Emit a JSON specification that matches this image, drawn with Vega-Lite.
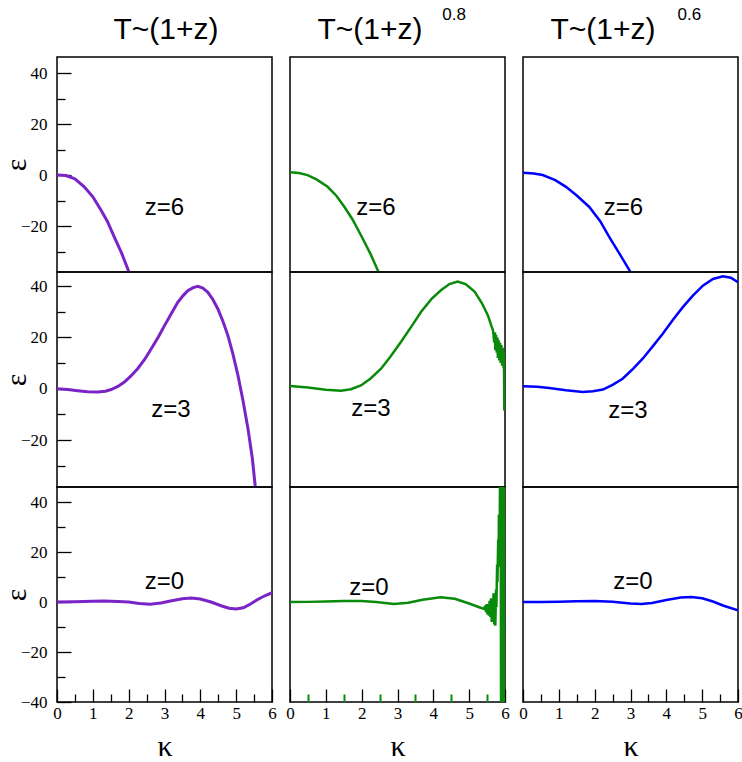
{
  "$schema": "https://vega.github.io/schema/vega-lite/v6.json",
  "padding": {"left": 0, "top": 4, "right": 4, "bottom": 4},
  "background": "white",
  "config": {
    "view": {"stroke": "black", "strokeWidth": 1.5},
    "axis": {"domain": false, "grid": false, "labelColor": "black", "tickColor": "black", "tickWidth": 1.3,
             "labelFont": "Liberation Serif", "labelFontSize": 17, "titleFont": "Liberation Serif", "titleFontSize": 30,
             "titleFontWeight": "normal", "titleColor": "black", "labelOverlap": false, "labelFlush": false, "labelBound": false},
    "text": {"font": "Liberation Sans", "fontSize": 24, "color": "black", "baseline": "middle", "align": "center"}
  },
  "datasets": {
    "p6": [{"k":0,"e":0},{"k":0.25,"e":-0.2},{"k":0.5,"e":-1.5},{"k":0.76,"e":-4.6},{"k":1.0,"e":-8.5},{"k":1.23,"e":-13.8},{"k":1.4,"e":-18},{"k":1.6,"e":-24.3},{"k":1.8,"e":-30.5},{"k":2.0,"e":-37.7},{"k":2.05,"e":-40}],
    "p3": [{"k":0,"e":0},{"k":0.3,"e":-0.3},{"k":0.58,"e":-0.8},{"k":0.85,"e":-1.2},{"k":1.14,"e":-1.3},{"k":1.35,"e":-1.0},{"k":1.51,"e":-0.3},{"k":1.7,"e":0.9},{"k":1.88,"e":2.6},{"k":2.05,"e":4.8},{"k":2.25,"e":7.8},{"k":2.45,"e":11.5},{"k":2.63,"e":15.6},{"k":2.82,"e":20},{"k":3.0,"e":24.6},{"k":3.2,"e":29.5},{"k":3.37,"e":33.7},{"k":3.52,"e":36.3},{"k":3.65,"e":38.2},{"k":3.8,"e":39.4},{"k":3.93,"e":39.9},{"k":4.07,"e":39.2},{"k":4.21,"e":37.6},{"k":4.35,"e":34.8},{"k":4.49,"e":31.1},{"k":4.63,"e":26.3},{"k":4.77,"e":20.7},{"k":4.91,"e":13.5},{"k":5.05,"e":5.2},{"k":5.19,"e":-4.6},{"k":5.33,"e":-15.6},{"k":5.45,"e":-27},{"k":5.53,"e":-37.7},{"k":5.56,"e":-41}],
    "p0": [{"k":0,"e":0},{"k":0.5,"e":0.1},{"k":1.0,"e":0.3},{"k":1.3,"e":0.35},{"k":1.7,"e":0.2},{"k":2.0,"e":0},{"k":2.3,"e":-0.6},{"k":2.6,"e":-0.9},{"k":2.9,"e":-0.4},{"k":3.2,"e":0.5},{"k":3.5,"e":1.3},{"k":3.75,"e":1.6},{"k":4.0,"e":1.2},{"k":4.3,"e":0},{"k":4.6,"e":-1.6},{"k":4.8,"e":-2.5},{"k":5.0,"e":-2.8},{"k":5.2,"e":-2.3},{"k":5.4,"e":-0.8},{"k":5.6,"e":1.0},{"k":5.8,"e":2.5},{"k":6.0,"e":3.7}],
    "g6": [{"k":0,"e":1.1},{"k":0.25,"e":0.8},{"k":0.49,"e":0},{"k":0.75,"e":-1.8},{"k":1.05,"e":-4.6},{"k":1.3,"e":-8.2},{"k":1.52,"e":-12.5},{"k":1.75,"e":-17.5},{"k":1.98,"e":-23.6},{"k":2.25,"e":-31},{"k":2.47,"e":-38},{"k":2.55,"e":-40.5}],
    "g3": [{"k":0,"e":1.1},{"k":0.5,"e":0.5},{"k":1.0,"e":-0.4},{"k":1.42,"e":-0.8},{"k":1.7,"e":-0.2},{"k":1.98,"e":1.3},{"k":2.25,"e":4},{"k":2.54,"e":7.8},{"k":2.8,"e":12.5},{"k":3.1,"e":18.3},{"k":3.4,"e":24.5},{"k":3.66,"e":30},{"k":3.95,"e":35},{"k":4.22,"e":38.5},{"k":4.45,"e":40.8},{"k":4.68,"e":41.8},{"k":4.9,"e":40.8},{"k":5.15,"e":37.9},{"k":5.35,"e":33.5},{"k":5.52,"e":28.7},{"k":5.62,"e":24.5},{"k":5.66,"e":23},{"k":5.68,"e":21},{"k":5.7,"e":18},{"k":5.72,"e":22},{"k":5.73,"e":15},{"k":5.75,"e":21},{"k":5.77,"e":14},{"k":5.79,"e":20},{"k":5.8,"e":12},{"k":5.82,"e":19},{"k":5.84,"e":11},{"k":5.86,"e":18},{"k":5.88,"e":10},{"k":5.9,"e":17},{"k":5.92,"e":9},{"k":5.94,"e":16},{"k":5.96,"e":8},{"k":5.97,"e":14},{"k":5.98,"e":-8.5},{"k":5.99,"e":12},{"k":6.0,"e":-5}],
    "g0": [{"k":0,"e":0},{"k":0.5,"e":0.05},{"k":1.0,"e":0.2},{"k":1.5,"e":0.4},{"k":2.0,"e":0.4},{"k":2.4,"e":0},{"k":2.9,"e":-0.8},{"k":3.3,"e":-0.3},{"k":3.7,"e":0.9},{"k":4.2,"e":1.9},{"k":4.6,"e":1.3},{"k":5.0,"e":-0.6},{"k":5.3,"e":-2.2},{"k":5.42,"e":-2.8},{"k":5.45,"e":-1.5},{"k":5.47,"e":-4.0},{"k":5.49,"e":-0.8},{"k":5.51,"e":-5},{"k":5.53,"e":-1},{"k":5.55,"e":-5.5},{"k":5.57,"e":0.5},{"k":5.59,"e":-6},{"k":5.61,"e":1.5},{"k":5.63,"e":-8},{"k":5.65,"e":-2},{"k":5.66,"e":-7},{"k":5.68,"e":3.5},{"k":5.7,"e":-9},{"k":5.72,"e":-3},{"k":5.73,"e":-9.5},{"k":5.75,"e":5},{"k":5.76,"e":-2},{"k":5.78,"e":15},{"k":5.79,"e":8},{"k":5.81,"e":25},{"k":5.82,"e":14},{"k":5.83,"e":35},{"k":5.85,"e":20},{"k":5.86,"e":48},{"k":5.87,"e":30},{"k":5.88,"e":48},{"k":5.89,"e":-45},{"k":5.9,"e":48},{"k":5.91,"e":-45},{"k":5.92,"e":48},{"k":5.93,"e":-45},{"k":5.94,"e":48},{"k":5.95,"e":-45},{"k":5.96,"e":48},{"k":5.97,"e":-45},{"k":5.98,"e":48},{"k":5.99,"e":-45},{"k":6.0,"e":48}],
    "b6": [{"k":0,"e":0.9},{"k":0.3,"e":0.6},{"k":0.55,"e":0},{"k":0.9,"e":-2},{"k":1.2,"e":-4.6},{"k":1.5,"e":-8},{"k":1.85,"e":-12.5},{"k":2.15,"e":-18},{"k":2.41,"e":-24.3},{"k":2.7,"e":-31},{"k":3.0,"e":-38},{"k":3.05,"e":-39.5}],
    "b3": [{"k":0,"e":1.0},{"k":0.4,"e":0.8},{"k":0.73,"e":0.3},{"k":1.2,"e":-0.6},{"k":1.67,"e":-1.3},{"k":1.95,"e":-1.0},{"k":2.23,"e":-0.3},{"k":2.5,"e":1.5},{"k":2.78,"e":3.9},{"k":3.05,"e":7.5},{"k":3.34,"e":11.7},{"k":3.62,"e":16.5},{"k":3.9,"e":21.4},{"k":4.18,"e":26.8},{"k":4.46,"e":31.8},{"k":4.74,"e":36.3},{"k":5.02,"e":40.2},{"k":5.3,"e":42.8},{"k":5.58,"e":43.8},{"k":5.8,"e":43.3},{"k":6.0,"e":41.5}],
    "b0": [{"k":0,"e":0},{"k":0.5,"e":0},{"k":1.0,"e":0.1},{"k":1.5,"e":0.3},{"k":2.0,"e":0.35},{"k":2.5,"e":0.1},{"k":3.0,"e":-0.6},{"k":3.3,"e":-0.8},{"k":3.6,"e":-0.4},{"k":4.0,"e":0.8},{"k":4.4,"e":1.8},{"k":4.7,"e":2.0},{"k":5.0,"e":1.5},{"k":5.3,"e":0.2},{"k":5.6,"e":-1.5},{"k":6.0,"e":-3.3}],
    "one": [{}]
  },
  "columns": 3,
  "spacing": {"row": 0, "column": 18},
  "bounds": "flush",
  "concat": [
      {"width": 215, "height": 215, "resolve": {"axis": {"x": "independent", "y": "independent"}},
       "layer": [
        {"data": {"name": "p6"}, "mark": {"type": "line", "color": "#7a24c8", "strokeWidth": 3, "clip": true},
         "encoding": {"x": {"field": "k", "type": "quantitative", "scale": {"domain": [0, 6], "nice": false}, "axis": null},
                      "y": {"field": "e", "type": "quantitative", "scale": {"domain": [-38, 46.3], "nice": false},
                            "axis": {"orient": "left", "title": "ε", "values": [-20, 0, 20, 40], "format": "d", "tickSize": 14, "offset": -14, "labelPadding": 10, "titlePadding": -11}}}},
        {"data": {"name": "one"}, "mark": {"type": "text"}, "encoding": {"x": {"datum": 3.0, "type": "quantitative", "axis": null}, "y": {"datum": -13, "type": "quantitative", "axis": {"orient": "left", "values": [-30, -10, 10, 30], "labels": false, "tickSize": 8, "offset": -8, "title": null}}, "text": {"value": "z=6"}}},
        {"data": {"name": "one"}, "mark": {"type": "text", "fontSize": 30, "baseline": "alphabetic"}, "encoding": {"x": {"datum": 3.04, "type": "quantitative", "axis": null}, "y": {"datum": 53.4, "type": "quantitative", "axis": null}, "text": {"value": "T~(1+z)"}}}
       ]},
      {"width": 215, "height": 215, "resolve": {"axis": {"x": "independent", "y": "independent"}},
       "layer": [
        {"data": {"name": "g6"}, "mark": {"type": "line", "color": "#0a8a0a", "strokeWidth": 2.5, "clip": true},
         "encoding": {"x": {"field": "k", "type": "quantitative", "scale": {"domain": [0, 6], "nice": false}, "axis": null},
                      "y": {"field": "e", "type": "quantitative", "scale": {"domain": [-38, 46.3], "nice": false}, "axis": null}}},
        {"data": {"name": "one"}, "mark": {"type": "text"}, "encoding": {"x": {"datum": 2.4, "type": "quantitative", "axis": null}, "y": {"datum": -13, "type": "quantitative", "axis": null}, "text": {"value": "z=6"}}},
        {"data": {"name": "one"}, "mark": {"type": "text", "fontSize": 30, "baseline": "alphabetic"}, "encoding": {"x": {"datum": 2.23, "type": "quantitative", "axis": null}, "y": {"datum": 53.4, "type": "quantitative", "axis": null}, "text": {"value": "T~(1+z)"}}},
        {"data": {"name": "one"}, "mark": {"type": "text", "fontSize": 17, "baseline": "alphabetic"}, "encoding": {"x": {"datum": 4.58, "type": "quantitative", "axis": null}, "y": {"datum": 61, "type": "quantitative", "axis": null}, "text": {"value": "0.8"}}}
       ]},
      {"width": 215, "height": 215, "resolve": {"axis": {"x": "independent", "y": "independent"}},
       "layer": [
        {"data": {"name": "b6"}, "mark": {"type": "line", "color": "#0000ff", "strokeWidth": 2.5, "clip": true},
         "encoding": {"x": {"field": "k", "type": "quantitative", "scale": {"domain": [0, 6], "nice": false}, "axis": null},
                      "y": {"field": "e", "type": "quantitative", "scale": {"domain": [-38, 46.3], "nice": false}, "axis": null}}},
        {"data": {"name": "one"}, "mark": {"type": "text"}, "encoding": {"x": {"datum": 2.8, "type": "quantitative", "axis": null}, "y": {"datum": -13, "type": "quantitative", "axis": null}, "text": {"value": "z=6"}}},
        {"data": {"name": "one"}, "mark": {"type": "text", "fontSize": 30, "baseline": "alphabetic"}, "encoding": {"x": {"datum": 2.23, "type": "quantitative", "axis": null}, "y": {"datum": 53.4, "type": "quantitative", "axis": null}, "text": {"value": "T~(1+z)"}}},
        {"data": {"name": "one"}, "mark": {"type": "text", "fontSize": 17, "baseline": "alphabetic"}, "encoding": {"x": {"datum": 4.64, "type": "quantitative", "axis": null}, "y": {"datum": 61, "type": "quantitative", "axis": null}, "text": {"value": "0.6"}}}
       ]},
      {"width": 215, "height": 215, "resolve": {"axis": {"x": "independent", "y": "independent"}},
       "layer": [
        {"data": {"name": "p3"}, "mark": {"type": "line", "color": "#7a24c8", "strokeWidth": 3, "clip": true},
         "encoding": {"x": {"field": "k", "type": "quantitative", "scale": {"domain": [0, 6], "nice": false}, "axis": null},
                      "y": {"field": "e", "type": "quantitative", "scale": {"domain": [-38.3, 45.5], "nice": false},
                            "axis": {"orient": "left", "title": "ε", "values": [-20, 0, 20, 40], "format": "d", "tickSize": 14, "offset": -14, "labelPadding": 10, "titlePadding": -11}}}},
        {"data": {"name": "one"}, "mark": {"type": "text"}, "encoding": {"x": {"datum": 3.18, "type": "quantitative", "axis": null}, "y": {"datum": -8.2, "type": "quantitative", "axis": {"orient": "left", "values": [-30, -10, 10, 30], "labels": false, "tickSize": 8, "offset": -8, "title": null}}, "text": {"value": "z=3"}}}
       ]},
      {"width": 215, "height": 215, "resolve": {"axis": {"x": "independent", "y": "independent"}},
       "layer": [
        {"data": {"name": "g3"}, "mark": {"type": "line", "color": "#0a8a0a", "strokeWidth": 2.5, "clip": true},
         "encoding": {"x": {"field": "k", "type": "quantitative", "scale": {"domain": [0, 6], "nice": false}, "axis": null},
                      "y": {"field": "e", "type": "quantitative", "scale": {"domain": [-38.3, 45.5], "nice": false}, "axis": null}}},
        {"data": {"name": "one"}, "mark": {"type": "text"}, "encoding": {"x": {"datum": 2.26, "type": "quantitative", "axis": null}, "y": {"datum": -7.8, "type": "quantitative", "axis": null}, "text": {"value": "z=3"}}}
       ]},
      {"width": 215, "height": 215, "resolve": {"axis": {"x": "independent", "y": "independent"}},
       "layer": [
        {"data": {"name": "b3"}, "mark": {"type": "line", "color": "#0000ff", "strokeWidth": 2.5, "clip": true},
         "encoding": {"x": {"field": "k", "type": "quantitative", "scale": {"domain": [0, 6], "nice": false}, "axis": null},
                      "y": {"field": "e", "type": "quantitative", "scale": {"domain": [-38.3, 45.5], "nice": false}, "axis": null}}},
        {"data": {"name": "one"}, "mark": {"type": "text"}, "encoding": {"x": {"datum": 2.93, "type": "quantitative", "axis": null}, "y": {"datum": -8.5, "type": "quantitative", "axis": null}, "text": {"value": "z=3"}}}
       ]},
      {"width": 215, "height": 215, "resolve": {"axis": {"x": "independent", "y": "independent"}},
       "layer": [
        {"data": {"name": "p0"}, "mark": {"type": "line", "color": "#7a24c8", "strokeWidth": 3, "clip": true},
         "encoding": {"x": {"field": "k", "type": "quantitative", "scale": {"domain": [0, 6], "nice": false},
                            "axis": {"orient": "bottom", "title": "κ", "values": [0,1,2,3,4,5,6], "format": "d", "tickSize": 13, "offset": -13, "labelPadding": 3, "titlePadding": 10}},
                      "y": {"field": "e", "type": "quantitative", "scale": {"domain": [-40, 46], "nice": false},
                            "axis": {"orient": "left", "title": "ε", "values": [-40, -20, 0, 20, 40], "format": "d", "tickSize": 14, "offset": -14, "labelPadding": 10, "titlePadding": -11}}}},
        {"data": {"name": "one"}, "mark": {"type": "text"}, "encoding": {
           "x": {"datum": 3.0, "type": "quantitative", "axis": {"orient": "bottom", "values": [0.5,1.5,2.5,3.5,4.5,5.5], "labels": false, "tickSize": 8, "offset": -8, "title": null}},
           "y": {"datum": 8, "type": "quantitative", "axis": {"orient": "left", "values": [-30, -10, 10, 30], "labels": false, "tickSize": 8, "offset": -8, "title": null}},
           "text": {"value": "z=0"}}}
       ]},
      {"width": 215, "height": 215, "resolve": {"axis": {"x": "independent", "y": "independent"}},
       "layer": [
        {"data": {"name": "g0"}, "mark": {"type": "line", "color": "#0a8a0a", "strokeWidth": 2.5, "clip": true},
         "encoding": {"x": {"field": "k", "type": "quantitative", "scale": {"domain": [0, 6], "nice": false},
                            "axis": {"orient": "bottom", "title": "κ", "values": [0,1,2,3,4,5,6], "format": "d", "tickSize": 13, "offset": -13, "labelPadding": 3, "titlePadding": 10}},
                      "y": {"field": "e", "type": "quantitative", "scale": {"domain": [-40, 46], "nice": false}, "axis": null}}},
        {"data": {"name": "one"}, "mark": {"type": "text"}, "encoding": {
           "x": {"datum": 2.2, "type": "quantitative", "axis": {"orient": "bottom", "values": [0.5,1.5,2.5,3.5,4.5,5.5], "labels": false, "tickSize": 8, "offset": -8, "title": null, "tickColor": "#0a8a0a", "tickWidth": 2}},
           "y": {"datum": 5.6, "type": "quantitative", "axis": null},
           "text": {"value": "z=0"}}}
       ]},
      {"width": 215, "height": 215, "resolve": {"axis": {"x": "independent", "y": "independent"}},
       "layer": [
        {"data": {"name": "b0"}, "mark": {"type": "line", "color": "#0000ff", "strokeWidth": 2.5, "clip": true},
         "encoding": {"x": {"field": "k", "type": "quantitative", "scale": {"domain": [0, 6], "nice": false},
                            "axis": {"orient": "bottom", "title": "κ", "values": [0,1,2,3,4,5,6], "format": "d", "tickSize": 13, "offset": -13, "labelPadding": 3, "titlePadding": 10}},
                      "y": {"field": "e", "type": "quantitative", "scale": {"domain": [-40, 46], "nice": false}, "axis": null}}},
        {"data": {"name": "one"}, "mark": {"type": "text"}, "encoding": {
           "x": {"datum": 3.07, "type": "quantitative", "axis": {"orient": "bottom", "values": [0.5,1.5,2.5,3.5,4.5,5.5], "labels": false, "tickSize": 8, "offset": -8, "title": null}},
           "y": {"datum": 8, "type": "quantitative", "axis": null},
           "text": {"value": "z=0"}}}
       ]}
  ]
}
